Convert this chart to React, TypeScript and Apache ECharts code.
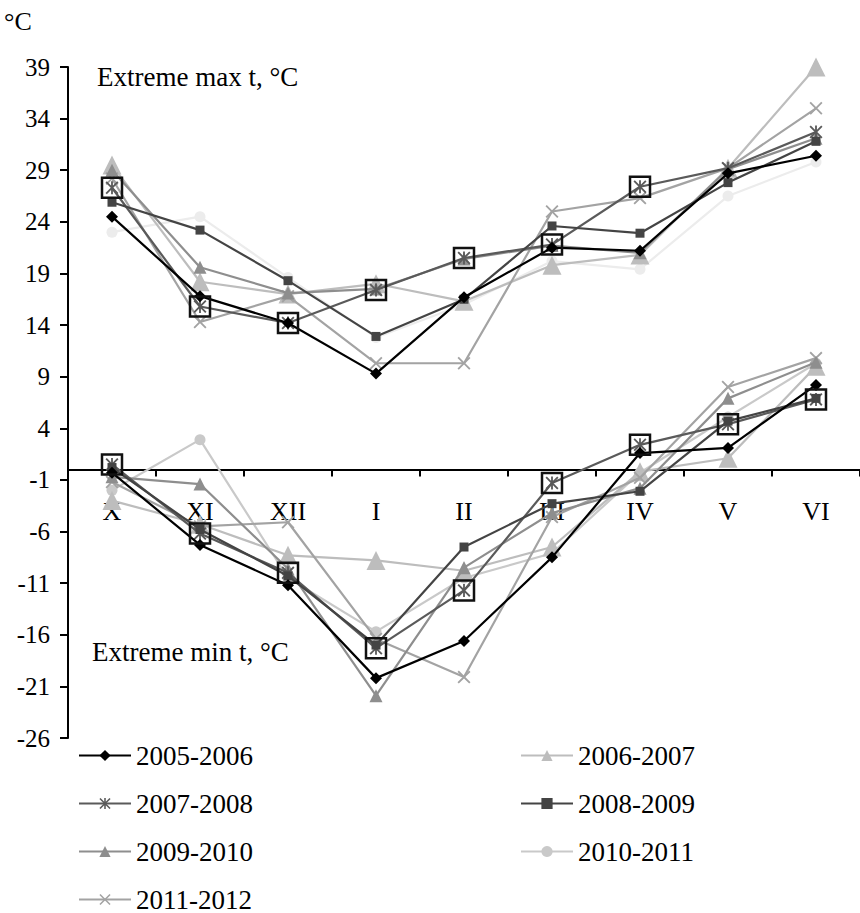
import React, { useEffect, useRef } from "react";
import * as echarts from "echarts";

const months = ["X", "XI", "XII", "I", "II", "III", "IV", "V", "VI"];
const seasons = ["2005-2006", "2006-2007", "2007-2008", "2008-2009", "2009-2010", "2010-2011", "2011-2012"];

const max2005 = [24.5, 16.8, 14.2, 9.3, 16.7, 21.5, 21.2, 28.7, 30.4];
const min2005 = [-0.3, -7.3, -11.2, -20.2, -16.6, -8.5, 1.6, 2.1, 8.2];

const max2006 = [29.5, 18.2, 17.0, 18.0, 16.3, 19.8, 20.8, 29.2, 39.0];
const min2006 = [-3.0, -5.3, -8.3, -8.8, -9.8, -7.5, -0.2, 1.1, 10.0];

const max2007 = [27.3, 15.8, 14.2, 17.4, 20.5, 21.8, 27.4, 29.2, 32.7];
const min2007 = [0.5, -6.2, -10.0, -17.3, -11.7, -1.3, 2.4, 4.4, 6.8];

const max2008 = [25.9, 23.2, 18.3, 12.9, 16.5, 23.6, 22.9, 27.8, 31.8];
const min2008 = [0.2, -5.8, -10.3, -17.0, -7.5, -3.3, -2.1, 4.7, 6.9];

const max2009 = [29.0, 19.6, 17.1, 17.5, 20.4, 21.7, 21.0, 29.1, 32.1];
const min2009 = [-0.7, -1.4, -9.6, -21.9, -9.5, -4.2, -1.8, 6.9, 10.4];

const max2010 = [23.0, 24.5, 18.6, 12.8, 16.0, 20.2, 19.4, 26.5, 29.8];
const min2010 = [-2.0, 2.9, -10.5, -15.7, -10.5, -8.1, -0.3, 5.1, 10.3];

const max2011 = [28.2, 14.3, 16.8, 10.3, 10.3, 25.0, 26.3, 29.2, 35.0];
const min2011 = [-1.2, -5.5, -5.1, -16.4, -20.1, -4.6, -0.8, 8.0, 10.8];

const boxMax = [27.3, 15.8, 14.2, 17.4, 20.5, 21.8, 27.4, null, null];
const boxMin = [0.5, -6.2, -10.0, -17.3, -11.7, -1.3, 2.4, 4.4, 6.8];

const FONT = "'Liberation Serif', 'Times New Roman', serif";
const CROSS = "path://M0,1L1,0L5,4L9,0L10,1L6,5L10,9L9,10L5,6L1,10L0,9L4,5Z";
const STAR = "path://M0,1L1,0L5,4L9,0L10,1L6,5L10,9L9,10L5,6L1,10L0,9L4,5Z M4.3,0L5.7,0L5.7,10L4.3,10Z";

const Y_MIN = -26;
const Y_MAX = 39;
const GRID_TOP = 67;
const GRID_H = 671;

export default function App() {
  const ref = useRef<HTMLDivElement>(null);
  useEffect(() => {
    document.body.style.margin = "0";
    if (!ref.current) return;
    const chart = echarts.init(ref.current, undefined, { renderer: "svg" });

    const styles: Record<string, any> = {
      "2005-2006": { color: "#000000", symbol: "diamond", size: 12, z: 9 },
      "2006-2007": { color: "#bdbdbd", symbol: "triangle", size: 19, z: 3 },
      "2007-2008": { color: "#5a5a5a", symbol: STAR, size: 13, z: 7 },
      "2008-2009": { color: "#444444", symbol: "rect", size: 9, z: 8 },
      "2009-2010": { color: "#8e8e8e", symbol: "triangle", size: 13, z: 5 },
      "2010-2011": { color: "#c9c9c9", symbol: "circle", size: 11, z: 2 },
      "2011-2012": { color: "#a3a3a3", symbol: CROSS, size: 13, z: 4 },
    };
    const mins: Record<string, (number | null)[]> = {
      "2005-2006": min2005, "2006-2007": min2006, "2007-2008": min2007, "2008-2009": min2008,
      "2009-2010": min2009, "2010-2011": min2010, "2011-2012": min2011,
    };
    const maxs: Record<string, (number | null)[]> = {
      "2005-2006": max2005, "2006-2007": max2006, "2007-2008": max2007, "2008-2009": max2008,
      "2009-2010": max2009, "2010-2011": max2010, "2011-2012": max2011,
    };
    const mk = (name: string, data: (number | null)[], faint?: boolean) => {
      const s = styles[name];
      const color = faint ? "#ececec" : s.color;
      return {
        type: "line",
        name,
        data,
        symbol: s.symbol,
        symbolSize: s.size,
        symbolKeepAspect: true,
        clip: false,
        lineStyle: { color, width: 2.2 },
        itemStyle: { color },
        z: s.z,
        emphasis: { disabled: true },
      };
    };
    const series: any[] = [];
    seasons.forEach((n) => series.push(mk(n, mins[n])));
    seasons.forEach((n) => series.push(mk(n, maxs[n], n === "2010-2011")));
    [boxMax, boxMin].forEach((d) =>
      series.push({
        type: "line",
        name: "box",
        data: d,
        symbol: "rect",
        symbolSize: 20,
        showSymbol: true,
        lineStyle: { width: 0, opacity: 0 },
        itemStyle: { color: "rgba(0,0,0,0)", borderColor: "#111", borderWidth: 2.5 },
        z: 10,
        emphasis: { disabled: true },
      })
    );

    const legendText = { fontFamily: FONT, fontSize: 27, color: "#000", lineHeight: 27 };
    const legendCommon = {
      orient: "vertical",
      itemWidth: 52,
      itemHeight: 14,
      itemGap: 21,
      padding: 0,
      textStyle: legendText,
      selectedMode: false,
    };

    // x axis sits on the zero line: shift it up from the grid bottom
    const zeroOffset = -((0 - Y_MIN) / (Y_MAX - Y_MIN)) * GRID_H;

    chart.setOption({
      animation: false,
      grid: { left: 68, top: GRID_TOP, width: 795, height: GRID_H },
      xAxis: {
        type: "category",
        data: months,
        offset: zeroOffset,
        axisLine: { onZero: false, lineStyle: { color: "#000", width: 2 } },
        axisTick: { show: true, length: 7, lineStyle: { color: "#000", width: 2 } },
        axisLabel: { margin: 29, fontSize: 26, color: "#000", fontFamily: FONT },
        splitLine: { show: false },
      },
      yAxis: {
        type: "value",
        min: Y_MIN,
        max: Y_MAX,
        interval: 5,
        axisLine: { show: true, onZero: false, lineStyle: { color: "#000", width: 2 } },
        axisTick: { show: true, length: 8, lineStyle: { color: "#000", width: 2 } },
        axisLabel: { margin: 18, fontSize: 25, color: "#000", fontFamily: FONT },
        splitLine: { show: false },
      },
      legend: [
        { ...legendCommon, left: 78, top: 742, data: ["2005-2006", "2007-2008", "2009-2010", "2011-2012"] },
        { ...legendCommon, left: 520, top: 742, data: ["2006-2007", "2008-2009", "2010-2011"] },
      ],
      graphic: [
        { type: "text", left: 4, top: 8, style: { text: "°C", font: `26px ${FONT}`, fill: "#000" } },
        { type: "text", left: 97, top: 63, style: { text: "Extreme max t, °C", font: `27px ${FONT}`, fill: "#000" } },
        { type: "text", left: 92, top: 638, style: { text: "Extreme min t, °C", font: `27px ${FONT}`, fill: "#000" } },
      ],
      series,
    });
    return () => chart.dispose();
  }, []);
  return <div ref={ref} style={{ width: 860, height: 913 }} />;
}
